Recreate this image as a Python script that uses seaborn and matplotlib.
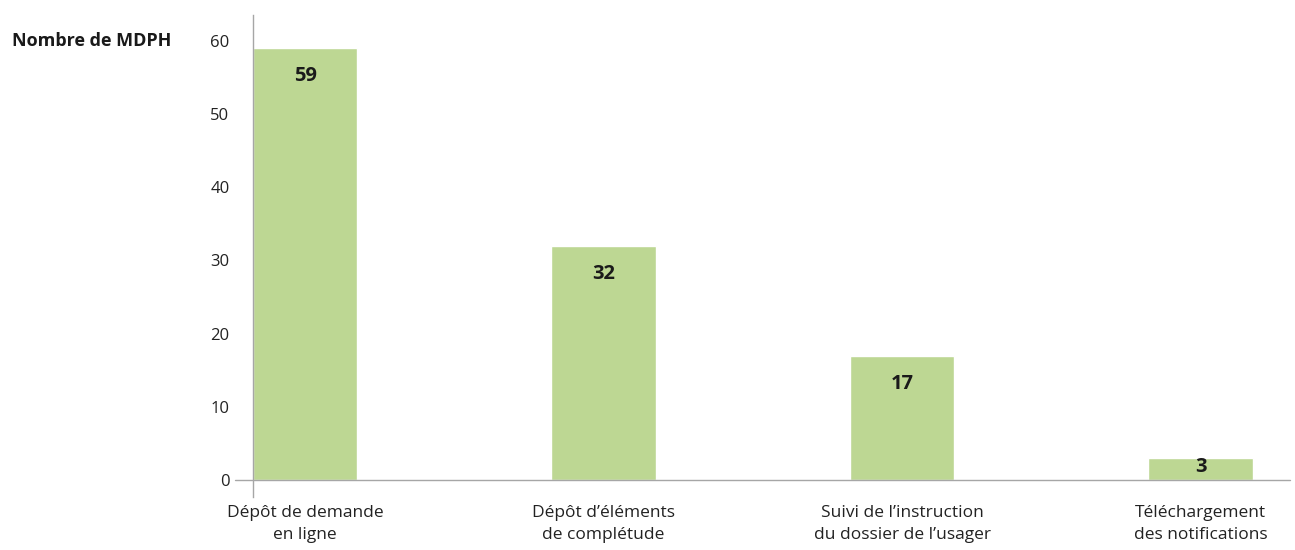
import matplotlib
matplotlib.use("Agg")
import matplotlib.pyplot as plt
import seaborn as sns
import pandas as pd

categories = [
    "Dépôt de demande\nen ligne",
    "Dépôt d’éléments\nde complétude",
    "Suivi de l’instruction\ndu dossier de l’usager",
    "Téléchargement\ndes notifications",
]
values = [59, 32, 17, 3]
yticks = [0, 10, 20, 30, 40, 50, 60]
ylabel = "Nombre de MDPH"

sns.set_theme(style="white")
plt.rcParams["font.family"] = ["Open Sans", "DejaVu Sans"]

df = pd.DataFrame({"cat": categories, "val": values})

fig = plt.figure(figsize=(12.95, 5.5), dpi=100)
ax = fig.add_axes([253 / 1295, 53 / 550, 1037 / 1295, 482 / 550])

sns.barplot(data=df, x="cat", y="val", color="#BDD793", saturation=1,
            width=0.35, ax=ax)

ax.set_xlim(-0.175, 3.3)
ax.set_ylim(-2.3, 63.5)

# value labels inside the top of each bar
px_per_unit = 482 / (63.5 + 2.3)
for i, v in enumerate(values):
    h_px = v * px_per_unit
    off = min(28, h_px * 0.42)
    ax.annotate(str(v), xy=(i, v), xytext=(0, -off * 0.72),
                textcoords="offset points", ha="center", va="center",
                fontsize=14.5, fontweight="bold", color="#1a1a1a")

for s in ["top", "right", "bottom"]:
    ax.spines[s].set_visible(False)
ax.spines["left"].set_color("#A6A6A6")
ax.spines["left"].set_linewidth(1.0)

# baseline with a short stub left of the axis
ax.axhline(0, xmin=-0.0175, xmax=1, color="#A6A6A6", lw=1.0, clip_on=False,
           zorder=3)

ax.set_yticks(yticks)
ax.set_yticklabels([str(t) for t in yticks], fontsize=12, color="#222222")
ax.tick_params(axis="y", length=0, pad=17)
ax.tick_params(axis="x", length=0, pad=6, labelsize=12.5, labelcolor="#222222")
for lbl in ax.get_xticklabels():
    lbl.set_multialignment("center")
    lbl.set_linespacing(1.45)
ax.set_xlabel("")
ax.set_ylabel("")

fig.text(12 / 1295, 1 - 41 / 550, ylabel, ha="left", va="center",
         fontsize=13, fontweight="bold", color="#1a1a1a")

fig.savefig("out.png", dpi=100, facecolor="white")
